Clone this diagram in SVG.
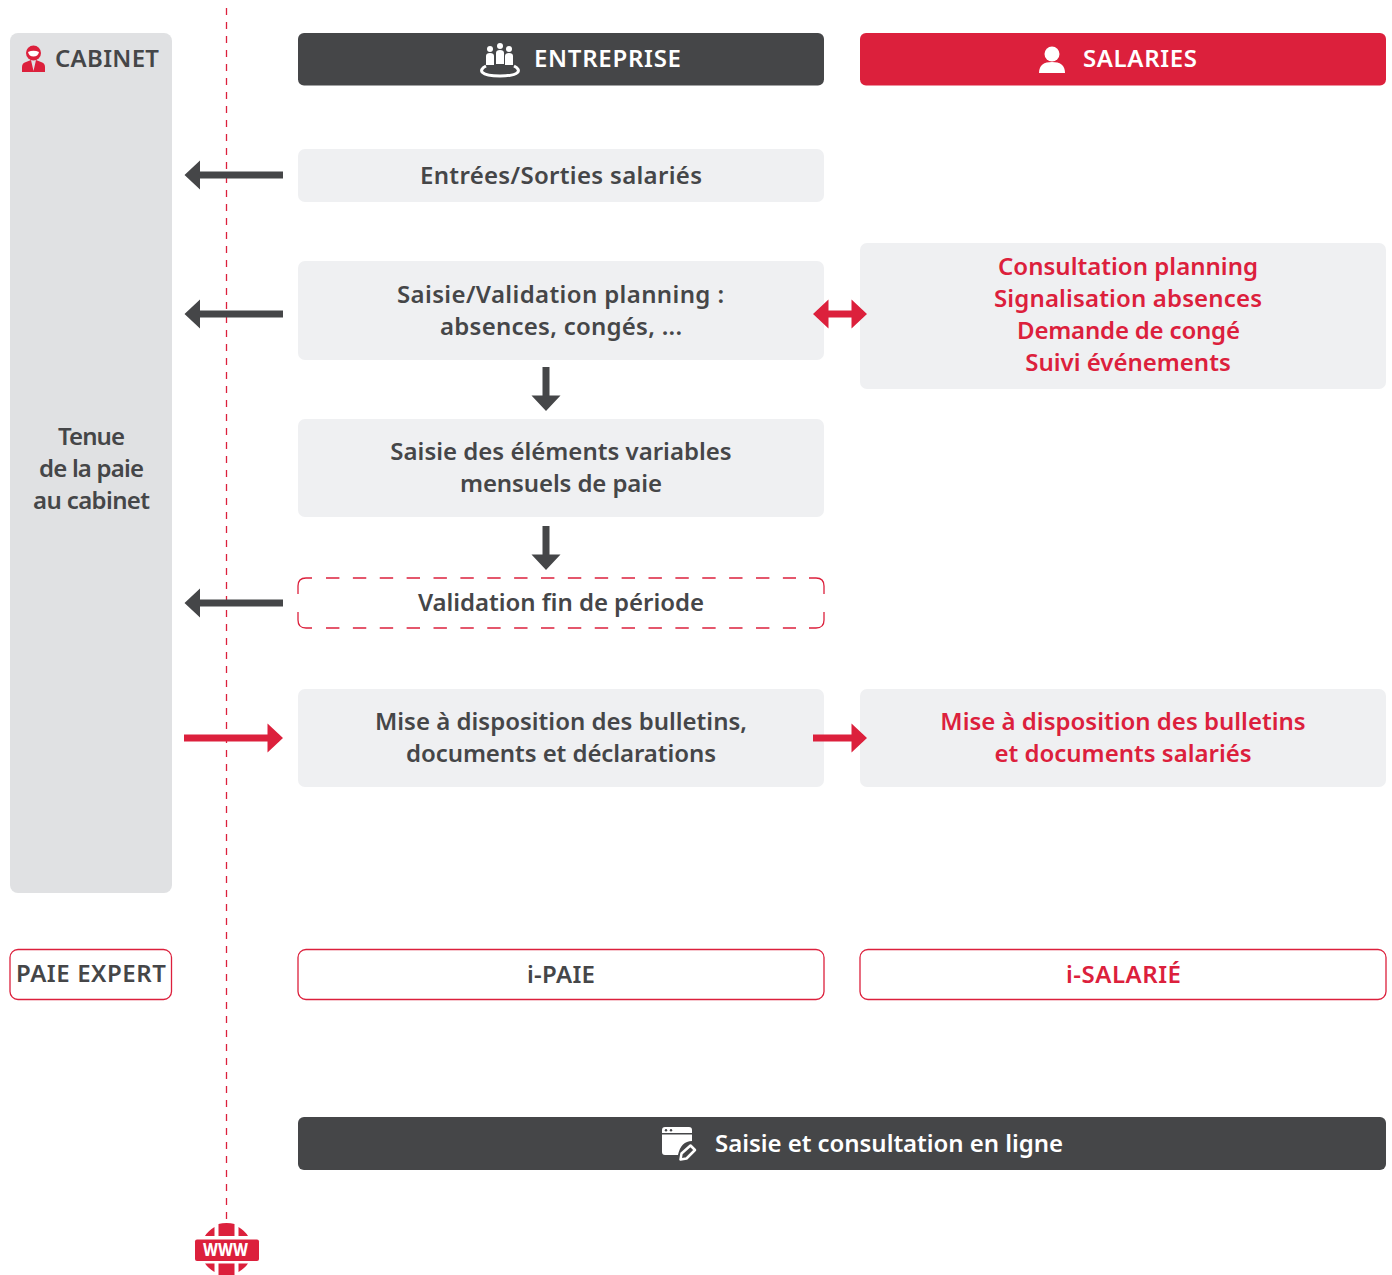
<svg xmlns="http://www.w3.org/2000/svg" width="1392" height="1275" viewBox="0 0 1392 1275">
<style>
text{font-family:"Noto Sans","Liberation Sans",sans-serif;font-weight:600;font-size:24px;text-anchor:middle;fill:#454648}
.r{fill:#dc203c}
.w{fill:#fff}
.l{fill:#eff0f2}
.o{fill:#fff;stroke:#dc203c;stroke-width:1.3}
.d{fill:none;stroke:#dc203c;stroke-width:1.3}
</style>
<defs>
<path id="al" d="M184.500 0L200 -14.500V-3.500H283V3.500H200V14.500Z"/>
<path id="ad" d="M0 0l-14.500 -15.500h11v-28.500h7v28.500h11z"/>
</defs>
<g id="web-line"><path d="M226.500 8V1222" fill="none" stroke="#dc203c" stroke-width="1.300" stroke-dasharray="7 7"/></g>
<g id="cabinet">
<rect x="10" y="33" width="162" height="860" rx="8" fill="#e0e1e3"/>
<g class="r"><circle cx="33.500" cy="53" r="7.500"/><path d="M22 72V67Q22 63 26 62L31 60L33.500 71L36 60L41 62Q45 63 45 67V72Z"/></g>
<path d="M28 52Q33.500 49.500 39 52Q38 56.500 33.500 56.500Q29 56.500 28 52Z" fill="#fff"/>
<text x="107" y="67" textLength="104">CABINET</text>
<text x="91.500" y="445" textLength="67">Tenue</text><text x="91.500" y="477" textLength="105">de la paie</text><text x="91.500" y="509" textLength="117">au cabinet</text>
</g>
<g id="entreprise">
<rect x="298" y="33" width="526" height="52.500" rx="6" fill="#454648"/>
<g class="w"><circle cx="490" cy="49" r="3"/><circle cx="500" cy="46" r="3"/><circle cx="509" cy="49" r="3"/><path d="M486 65V56Q486 53 490 53Q494 53 494 56V65ZM496 64V53Q496 50 500 50Q504 50 504 53V64ZM505 65V56Q505 53 509 53Q513 53 513 56V65Z"/></g>
<path d="M486 66C478 70 480 76 500 76C520 76 522 70 514 66" fill="none" stroke="#fff" stroke-width="3"/>
<text class="w" x="607.500" y="67" textLength="147">ENTREPRISE</text>
</g>
<g id="salaries">
<rect x="860" y="33" width="526" height="52.500" rx="6" fill="#dc203c"/>
<circle cx="1052" cy="54" r="7.500" fill="#fff"/><path d="M1039 73C1039 65 1044 62 1052 62C1060 62 1065 65 1065 73Z" fill="#fff"/>
<text class="w" x="1140" y="67" textLength="114">SALARIES</text>
</g>
<g id="entrees"><rect class="l" x="298" y="149" width="526" height="53" rx="7"/><text x="561" y="184" textLength="282">Entrées/Sorties salariés</text></g>
<g id="saisie-planning"><rect class="l" x="298" y="261" width="526" height="99" rx="7"/><text x="560.500" y="303" textLength="327">Saisie/Validation planning :</text><text x="561" y="335" textLength="242">absences, congés, ...</text></g>
<g id="consultation"><rect class="l" x="860" y="243" width="526" height="146" rx="7"/>
<text class="r" x="1128" y="275" textLength="260">Consultation planning</text><text class="r" x="1128" y="307" textLength="268">Signalisation absences</text><text class="r" x="1128.500" y="339" textLength="223">Demande de congé</text><text class="r" x="1128" y="371">Suivi événements</text></g>
<g id="variables"><rect class="l" x="298" y="419" width="526" height="98" rx="7"/><text x="561" y="460">Saisie des éléments variables</text><text x="561" y="492" textLength="202">mensuels de paie</text></g>
<g id="validation"><rect x="298" y="578" width="526" height="50" fill="#fff"/>
<path class="d" d="M298 594V586Q298 578 306 578H312M298 612V620Q298 628 306 628H312M824 594V586Q824 578 816 578H809M824 612V620Q824 628 816 628H809"/>
<path class="d" d="M326 578H796M326 628H796" stroke-dasharray="13.400 13.475"/>
<text x="561" y="611" textLength="286">Validation fin de période</text></g>
<g id="bulletins"><rect class="l" x="298" y="689" width="526" height="98" rx="7"/><text x="561" y="730">Mise à disposition des bulletins,</text><text x="561" y="762" textLength="310">documents et déclarations</text></g>
<g id="bulletins-salaries"><rect class="l" x="860" y="689" width="526" height="98" rx="7"/><text class="r" x="1123" y="730">Mise à disposition des bulletins</text><text class="r" x="1123" y="762">et documents salariés</text></g>
<g id="paie-expert"><rect class="o" x="10" y="949.500" width="161.500" height="50" rx="8"/><text x="91" y="982" textLength="150">PAIE EXPERT</text></g>
<g id="i-paie"><rect class="o" x="298" y="949.500" width="526" height="50" rx="8"/><text x="561" y="983" textLength="68">i-PAIE</text></g>
<g id="i-salarie"><rect class="o" x="860" y="949.500" width="526" height="50" rx="8"/><text class="r" x="1123.500" y="983" textLength="115">i-SALARIÉ</text></g>
<g id="saisie-ligne">
<rect x="298" y="1117" width="1088" height="53" rx="6" fill="#454648"/>
<path d="M665 1127H689Q692 1127 692 1130V1141Q681 1141 678 1155H665Q662 1155 662 1152V1130Q662 1127 665 1127Z" fill="#fff"/>
<rect x="662" y="1133" width="30" height="1.500" fill="#454648"/><circle cx="666" cy="1130.300" r="1.200" fill="#454648"/><circle cx="671" cy="1130.300" r="1.200" fill="#454648"/>
<path d="M680.500 1159.500L681.500 1153.500L690.500 1145.500L695 1150L686.500 1158.500Z" fill="none" stroke="#fff" stroke-width="2.500" stroke-linejoin="round"/>
<text class="w" x="889" y="1152" textLength="348">Saisie et consultation en ligne</text>
</g>
<g id="www">
<g class="r">
<path d="M218.500 1236V1224Q222 1223 226.500 1223Q231 1223 234.500 1224V1236ZM205 1236Q208 1231 214.500 1227V1236ZM238.500 1227Q245 1231 248 1236H238.500ZM218.500 1263.500H234.500V1275H218.500ZM205 1263.500H214.500V1272Q208 1268 205 1263.500ZM238.500 1263.500H248Q245 1268 238.500 1272Z"/>
<rect x="195" y="1239.500" width="64" height="21.500" rx="2"/>
</g>
<text class="w" x="225.500" y="1256" textLength="45" lengthAdjust="spacingAndGlyphs" style="font-size:18px;font-weight:800">WWW</text>
</g>
<g id="connectors">
<g fill="#454648">
<use href="#al" y="175"/><use href="#al" y="314"/><use href="#al" y="603"/>
<use href="#ad" x="546" y="411"/><use href="#ad" x="546" y="570"/>
</g>
<g class="r">
<path d="M283 738L267.500 723.500V734.500H184V741.500H267.500V752.500Z"/>
<path d="M867 738L851.500 723.500V734.500H813V741.500H851.500V752.500Z"/>
<path d="M813 314L828.500 299.500V310.500H851.500V299.500L867 314L851.500 328.500V317.500H828.500V328.500Z"/>
</g>
</g>
</svg>
